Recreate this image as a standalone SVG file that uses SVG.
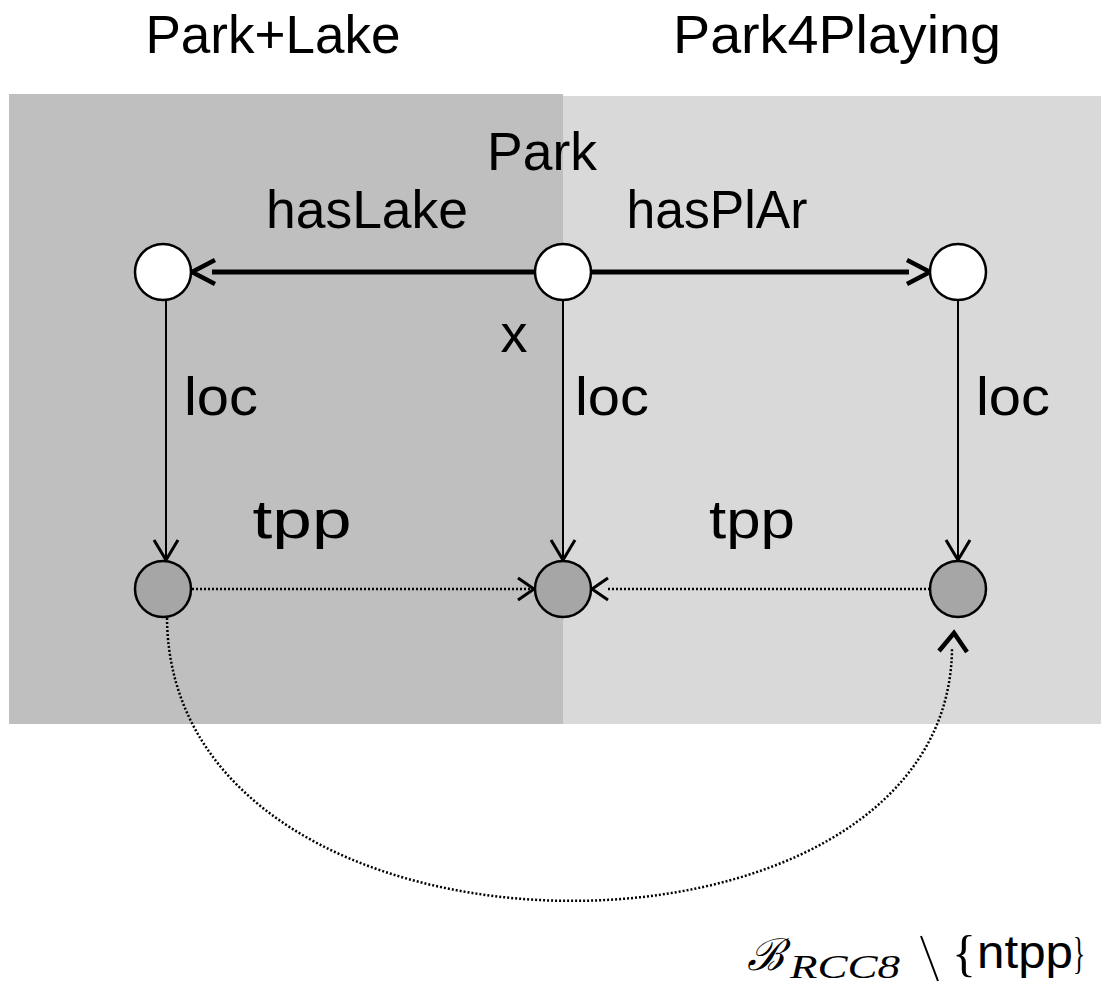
<svg xmlns="http://www.w3.org/2000/svg" width="1101" height="987" viewBox="0 0 1101 987">
  <style>
    .lbl { font-family: "Liberation Sans", Arial, sans-serif; font-size: 54px; fill: #000; }
    .top { fill: #fff; stroke: #000; stroke-width: 2.5; }
    .bot { fill: #a6a6a6; stroke: #000; stroke-width: 2.5; }
    .thick { stroke: #000; stroke-width: 5; fill: none; }
    .thin { stroke: #000; stroke-width: 2; fill: none; }
    .dot { stroke: #000; stroke-width: 2.5; stroke-dasharray: 2 2; fill: none; }
    .head { stroke: #000; fill: none; stroke-linecap: butt; stroke-linejoin: miter; }
  </style>

  <!-- regions -->
  <g id="regions">
    <rect x="563" y="96" width="538" height="628" fill="#d9d9d9"/>
    <rect x="9" y="94" width="554" height="630" fill="#bfbfbf"/>
  </g>

  <!-- region titles -->
  <text class="lbl" x="273" y="53" text-anchor="middle" textLength="255" lengthAdjust="spacingAndGlyphs">Park+Lake</text>
  <text class="lbl" x="837" y="53" text-anchor="middle" textLength="328" lengthAdjust="spacingAndGlyphs">Park4Playing</text>

  <!-- connectors -->
  <g id="connectors">
    <!-- hasLake -->
    <line class="thick" x1="535" y1="272" x2="212" y2="272"/>
    <path class="head" stroke-width="4.5" d="M215,260 L192,272 L215,284"/>
    <!-- hasPlAr -->
    <line class="thick" x1="591" y1="272" x2="909" y2="272"/>
    <path class="head" stroke-width="4.5" d="M907,260 L930,272 L907,284"/>
    <!-- loc edges -->
    <line class="thin" x1="166" y1="300" x2="166" y2="558"/>
    <path class="head" stroke-width="3" d="M154,540 L166,560 L178,540"/>
    <line class="thin" x1="563" y1="300" x2="563" y2="558"/>
    <path class="head" stroke-width="3" d="M551,540 L563,560 L575,540"/>
    <line class="thin" x1="958" y1="300" x2="958" y2="558"/>
    <path class="head" stroke-width="3" d="M946,540 L958,560 L970,540"/>
    <!-- tpp edges -->
    <line class="dot" x1="192" y1="589" x2="530" y2="589"/>
    <path class="head" stroke-width="3" d="M518,578 L534,589 L518,600"/>
    <line class="dot" x1="930" y1="589" x2="608" y2="589"/>
    <path class="head" stroke-width="3" d="M608,578 L592,589 L608,600"/>
    <!-- arc under the regions -->
    <path class="dot" d="M167,618 C170,990 950,990 952,648"/>
    <path class="head" stroke-width="4.5" d="M939,651 L954,633 L967,652"/>
  </g>

  <!-- nodes -->
  <g id="node-lake">
    <circle class="top" cx="163" cy="272" r="28"/>
  </g>
  <g id="node-park">
    <circle class="top" cx="563" cy="272" r="28"/>
    <text class="lbl" x="542" y="170" text-anchor="middle" textLength="110" lengthAdjust="spacingAndGlyphs">Park</text>
    <text class="lbl" x="514" y="352" text-anchor="middle" font-size="70">x</text>
  </g>
  <g id="node-playarea">
    <circle class="top" cx="958" cy="272" r="28"/>
  </g>
  <g id="node-lake-loc">
    <circle class="bot" cx="163" cy="589" r="28"/>
  </g>
  <g id="node-park-loc">
    <circle class="bot" cx="563" cy="589" r="28"/>
  </g>
  <g id="node-playarea-loc">
    <circle class="bot" cx="958" cy="589" r="28"/>
  </g>

  <!-- edge labels -->
  <g id="edge-labels">
    <text class="lbl" x="367" y="228" text-anchor="middle" textLength="202" lengthAdjust="spacingAndGlyphs">hasLake</text>
    <text class="lbl" x="717" y="228" text-anchor="middle" textLength="181" lengthAdjust="spacingAndGlyphs">hasPlAr</text>
    <text class="lbl" x="221" y="415" text-anchor="middle" textLength="74" lengthAdjust="spacingAndGlyphs">loc</text>
    <text class="lbl" x="612" y="415" text-anchor="middle" textLength="74" lengthAdjust="spacingAndGlyphs">loc</text>
    <text class="lbl" x="1013" y="415" text-anchor="middle" textLength="74" lengthAdjust="spacingAndGlyphs">loc</text>
    <text class="lbl" x="302" y="538" text-anchor="middle" textLength="99" lengthAdjust="spacingAndGlyphs">tpp</text>
    <text class="lbl" x="752" y="538" text-anchor="middle" textLength="86" lengthAdjust="spacingAndGlyphs">tpp</text>
  </g>

  <!-- relation set -->
  <g id="caption" transform="translate(-10,0)">
    <text x="757" y="970" font-family="'DejaVu Serif', 'Liberation Serif', serif" font-style="italic" font-size="44">ℬ</text>
    <text x="800" y="978" font-family="'Liberation Serif', serif" font-style="italic" font-size="34" textLength="110" lengthAdjust="spacingAndGlyphs">RCC8</text>
    <line x1="931" y1="936" x2="948" y2="981" stroke="#000" stroke-width="2"/>
    <text x="962" y="970" font-family="'Liberation Serif', serif" font-size="50">{</text>
    <text x="987" y="968" font-family="'Liberation Sans', Arial, sans-serif" font-size="46" textLength="96" lengthAdjust="spacingAndGlyphs">ntpp</text>
    <text x="1083" y="968" font-family="'Liberation Serif', serif" font-size="44" textLength="12" lengthAdjust="spacingAndGlyphs">}</text>
  </g>
</svg>
